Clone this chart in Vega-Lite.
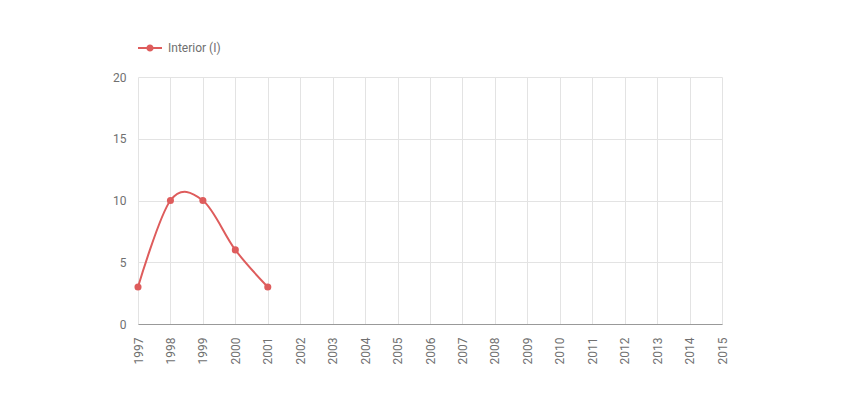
{
  "$schema": "https://vega.github.io/schema/vega-lite/v6.json",
  "width": 584,
  "height": 247,
  "autosize": {"type": "none"},
  "padding": {"left": 138, "top": 77, "right": 138, "bottom": 78},
  "background": "white",
  "config": {
    "view": {"stroke": null},
    "font": "Roboto",
    "axis": {"labelFont": "Roboto", "labelColor": "#707070", "labelFontSize": 12, "gridColor": "#e3e3e3", "ticks": false}
  },
  "data": {"values": [
    {"year": 1997, "value": 3, "series": "Interior (I)"},
    {"year": 1998, "value": 10, "series": "Interior (I)"},
    {"year": 1999, "value": 10, "series": "Interior (I)"},
    {"year": 2000, "value": 6, "series": "Interior (I)"},
    {"year": 2001, "value": 3, "series": "Interior (I)"}
  ]},
  "encoding": {
    "x": {"field": "year", "type": "quantitative", "title": null,
      "scale": {"domain": [1997, 2015], "nice": false, "zero": false},
      "axis": {"values": [1997,1998,1999,2000,2001,2002,2003,2004,2005,2006,2007,2008,2009,2010,2011,2012,2013,2014,2015], "format": "d", "labelAngle": 270, "labelPadding": 13, "domainColor": "#999999", "grid": true, "labelFlush": false, "labelOverlap": false}},
    "y": {"field": "value", "type": "quantitative", "title": null,
      "scale": {"domain": [0, 20], "nice": false},
      "axis": {"values": [0, 5, 10, 15, 20], "domain": false, "labelPadding": 12, "grid": true}},
    "color": {"field": "series", "type": "nominal", "title": null,
      "scale": {"range": ["#de5c5c"]},
      "legend": {"orient": "none", "legendX": 0, "legendY": -41, "symbolType": "M-1,-0.09L1,-0.09L1,0.09L-1,0.09Z M-0.3,0A0.3,0.3 0 1,1 0.3,0A0.3,0.3 0 1,1 -0.3,0Z", "symbolSize": 576, "symbolFillColor": "#de5c5c", "symbolStrokeColor": "#de5c5c", "symbolStrokeWidth": 0, "labelFont": "Roboto", "labelFontSize": 12, "labelColor": "#707070", "labelOffset": 6}}
  },
  "layer": [
    {"mark": {"type": "line", "interpolate": "cardinal", "strokeWidth": 2}},
    {"mark": {"type": "point", "filled": true, "size": 50, "opacity": 1}}
  ]
}
